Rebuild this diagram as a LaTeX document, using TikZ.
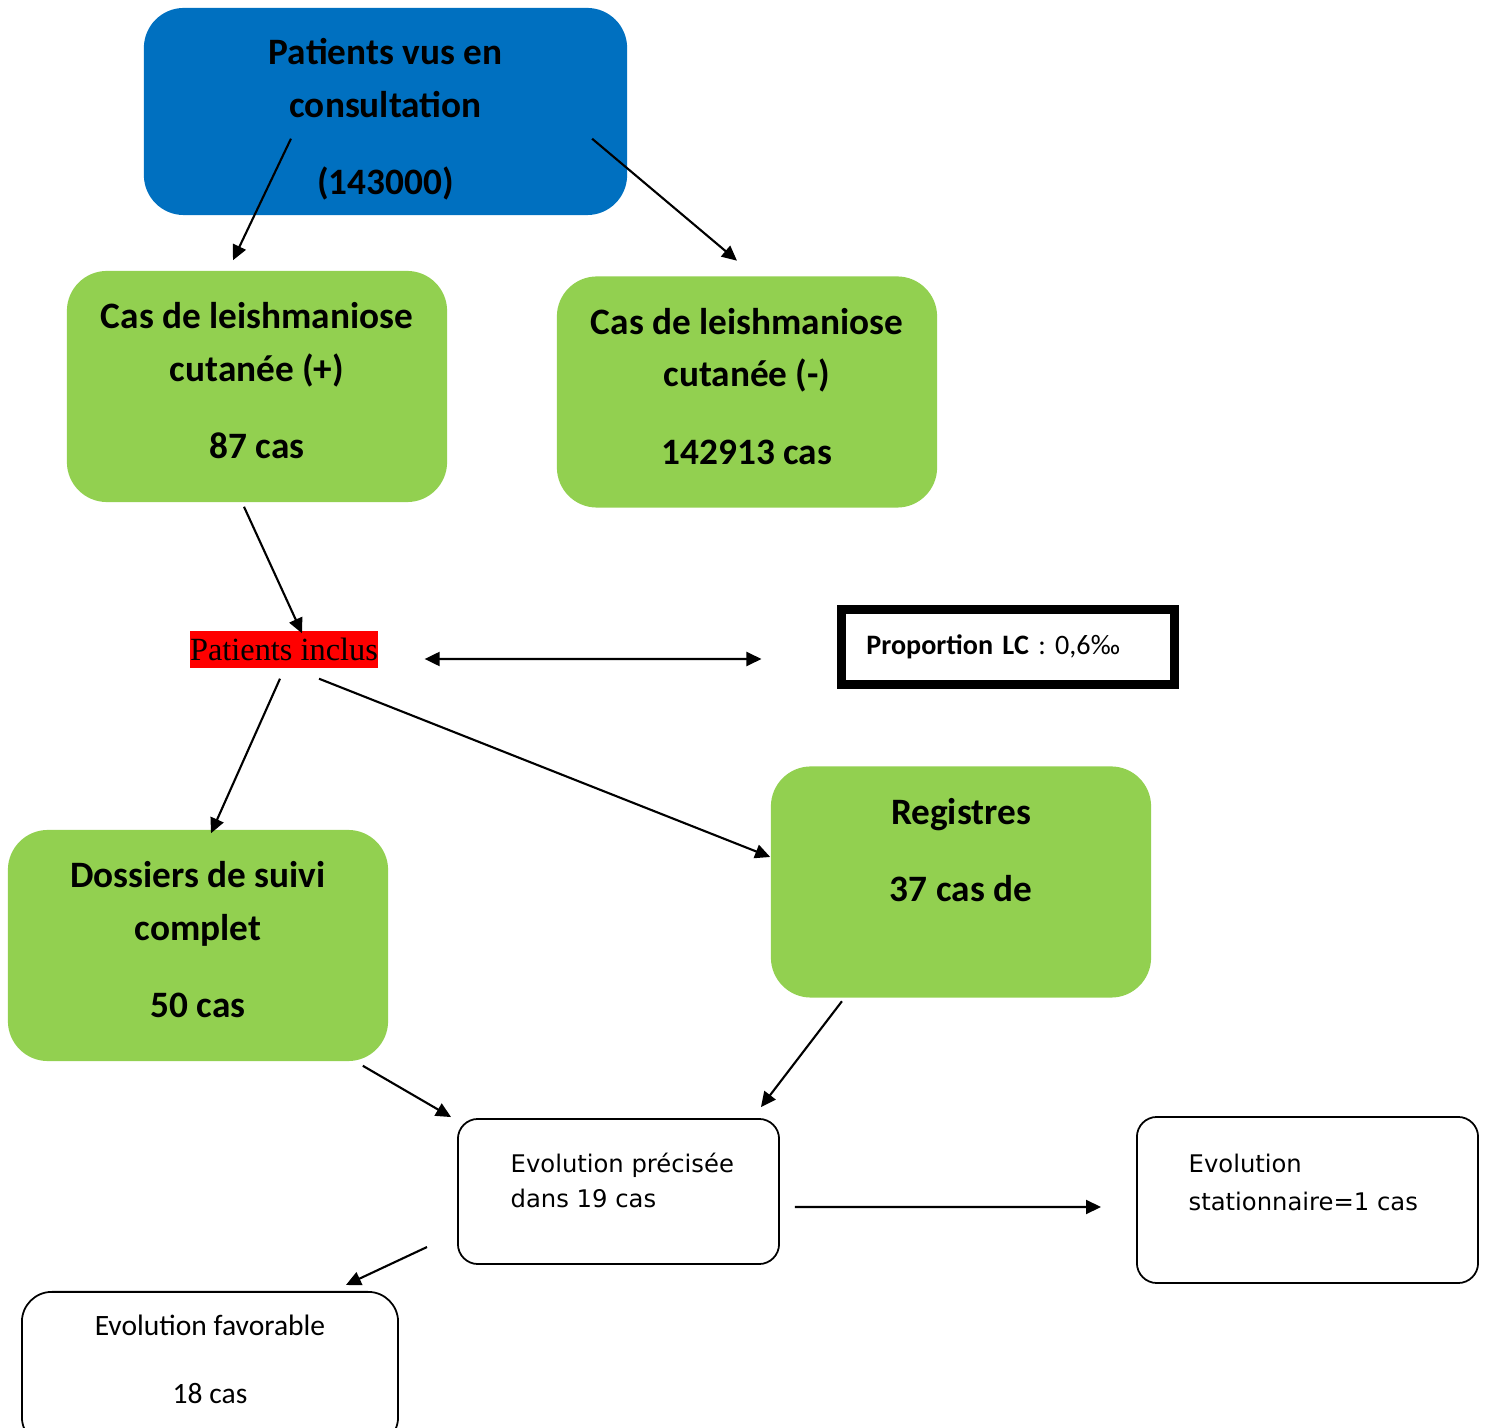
\documentclass[tikz,border=0pt]{standalone}
\usepackage{fontspec}
\setmainfont{Carlito}
\newfontfamily\seriffont{Liberation Serif}
\newfontfamily\pixfont{DejaVu Sans}
\usetikzlibrary{arrows.meta}
\definecolor{leafgreen}{HTML}{92D050}
\definecolor{ocean}{HTML}{0070C0}

\begin{document}
\begin{tikzpicture}[x=0.01cm, y=-0.01cm,
    greenbox/.style={fill=leafgreen, rounded corners=0.4cm, minimum width=3.8cm,
        minimum height=2.31cm, align=center, inner sep=0pt,
        font=\fontsize{10.6}{15}\selectfont\bfseries,
        execute at end node={\rule[-0.12cm]{0pt}{0pt}}},
    whitebox/.style={draw, line width=0.5pt, rounded corners=0.2cm},
    arr/.style={-{Triangle[length=0.15cm, width=0.14cm]}, line width=0.6pt},
    dblarr/.style={{Triangle[length=0.15cm, width=0.14cm]}-{Triangle[length=0.15cm, width=0.14cm]}, line width=0.6pt}]
    \useasboundingbox (0,0) rectangle (1487,1428);

    % Boxes
    \node[greenbox, fill=ocean, minimum width=4.83cm, minimum height=2.07cm] (consult) at (385.5,111.5) {\rule{0pt}{13.6pt}Patients vus en\\consultation\\[7pt](143000)};
    \node[greenbox] (pos) at (257,386.5) {Cas de leishmaniose\\cutanée (+)\\[7pt]87 cas};
    \node[greenbox] (neg) at (747,392) {Cas de leishmaniose\\cutanée (-)\\[7pt]142913 cas};
    \node[fill=red, inner sep=0pt, minimum width=1.86cm, minimum height=0.37cm, font=\seriffont\fontsize{9.2}{10}\selectfont] (inclus) at (284,649.5) {Patients inclus};
    \node[draw, line width=2.5pt, minimum height=0.75cm, inner xsep=0.25cm, text width=2.83cm, align=left, font=\fontsize{8}{9}\selectfont] (proportion) at (1008,647) {\textbf{Proportion LC} : 0,6‰};
    \node[greenbox] (dossiers) at (198,945.5) {Dossiers de suivi\\complet\\[7pt]50 cas};
    \node[greenbox] (registres) at (961,882) {Registres\\[7pt]37 cas de\\~};

    \node[whitebox, minimum width=3.21cm, minimum height=1.45cm] (precise) at (618.5,1191.5) {};
    \node[anchor=north west, inner sep=0pt, align=left, font=\pixfont\fontsize{6.9}{10.2}\selectfont] (precisetext) at (510,1152) {Evolution précisée\\dans 19 cas};
    \node[whitebox, minimum width=3.41cm, minimum height=1.66cm] (stat) at (1307.5,1200) {};
    \node[anchor=north west, inner sep=0pt, align=left, font=\pixfont\fontsize{6.9}{11}\selectfont] (stattext) at (1188,1153) {Evolution\\stationnaire=1 cas};
    \node[whitebox, rounded corners=0.3cm, anchor=north, minimum width=3.76cm, minimum height=1.55cm, align=center, font=\fontsize{8.4}{9.5}\selectfont] (favorable) at (210,1291) {Evolution favorable\\[10pt]18 cas\rule[-0.2cm]{0pt}{0pt}};

    % Arrows
    \draw[arr] ([xshift=-0.945cm, yshift=0.77cm]consult.south) -- ([xshift=-0.24cm, yshift=0.1cm]pos.north);
    \draw[arr] ([xshift=2.065cm, yshift=0.77cm]consult.south) -- ([xshift=-0.1cm, yshift=0.15cm]neg.north);
    \draw[arr] ([xshift=-0.13cm, yshift=-0.04cm]pos.south) -- ([xshift=0.18cm, yshift=-0.03cm]inclus.north);
    \draw[dblarr] ([xshift=0.46cm, yshift=-0.095cm]inclus.east) -- ([xshift=-0.755cm, yshift=-0.12cm]proportion.west);
    \draw[arr] ([xshift=-0.04cm, yshift=-0.1cm]inclus.south) -- ([xshift=0.13cm, yshift=-0.04cm]dossiers.north);
    \draw[arr] ([xshift=0.35cm, yshift=-0.1cm]inclus.south) -- ([yshift=0.25cm]registres.west);
    \draw[arr] ([xshift=-0.26cm, yshift=-0.04cm]dossiers.south east) -- ([xshift=-0.06cm, yshift=0.01cm]precise.north west);
    \draw[arr] ([xshift=-1.19cm, yshift=-0.03cm]registres.south) -- ([xshift=-0.19cm, yshift=0.11cm]precise.north east);
    \draw[arr] ([xshift=0.15cm, yshift=-0.155cm]precise.east) -- ([xshift=-0.35cm, yshift=-0.07cm]stat.west);
    \draw[arr] ([xshift=-0.3cm, yshift=-0.555cm]precise.west) -- ([xshift=-0.53cm, yshift=0.06cm]favorable.north east);
\end{tikzpicture}
\end{document}
